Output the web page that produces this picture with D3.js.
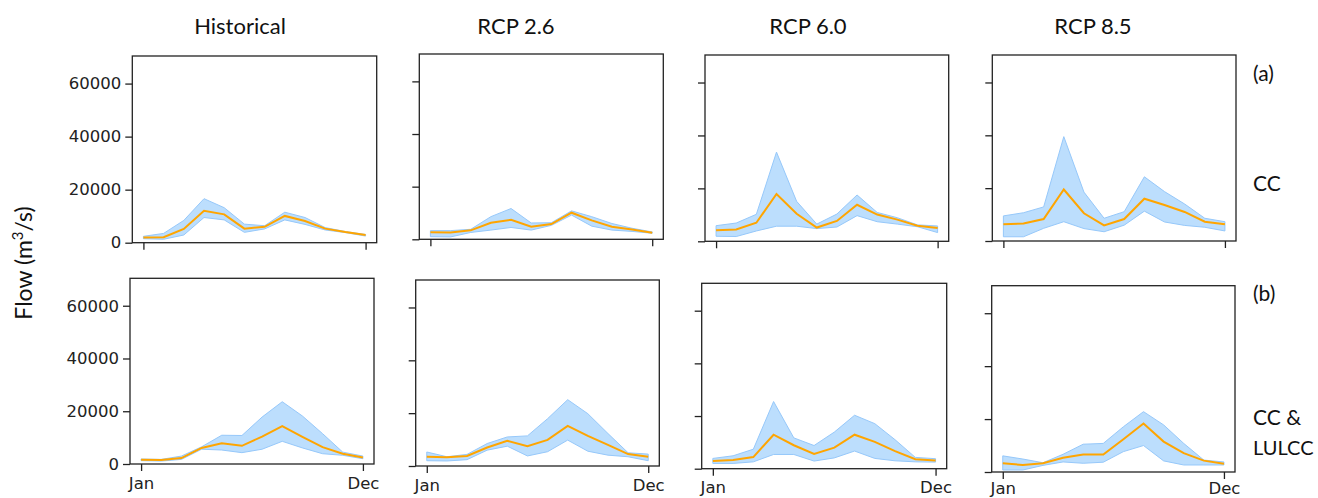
<!DOCTYPE html>
<html>
<head>
<meta charset="utf-8">
<script src="https://cdn.jsdelivr.net/npm/d3@7/dist/d3.min.js"></script>
<style>
  html, body { margin: 0; padding: 0; background: #fff; }
  svg { display: block; }
</style>
</head>
<body>
<svg id="chart" width="1318" height="498"></svg>
<script>
// ---------- DATA ----------
const months = ["Jan","Feb","Mar","Apr","May","Jun","Jul","Aug","Sep","Oct","Nov","Dec"];
const xTickLabels = ["Jan", "Dec"];
const yTicks = [0, 20000, 40000, 60000];
const columnTitles = ["Historical", "RCP 2.6", "RCP 6.0", "RCP 8.5"];
const rowTags = ["(a)", "(b)"];
const rowNames = [["CC"], ["CC &", "LULCC"]];

// Row (a): CC
const histCC_mean = [2000, 2100, 5200, 12000, 10700, 5300, 6000, 10100, 8200, 5300, 4000, 2900];
const histCC_high = [2400, 3500, 8400, 16600, 13200, 7000, 6400, 11500, 9500, 5700, 4200, 3100];
const histCC_low  = [1500, 1300, 2900, 9500, 8600, 3900, 5200, 8600, 6900, 4800, 3800, 2500];

const rcp26CC_mean = [2700, 2600, 3400, 6300, 7400, 4800, 5800, 10100, 7200, 4800, 3700, 2500];
const rcp26CC_high = [3300, 3300, 3800, 8600, 11700, 6200, 6300, 10800, 8600, 6000, 4200, 2800];
const rcp26CC_low  = [1000, 900, 2600, 3500, 4500, 3500, 5300, 9200, 5000, 3500, 3000, 2300];

const rcp60CC_mean = [4150, 4500, 7000, 17900, 10400, 5200, 7700, 13800, 10100, 8200, 5900, 5000];
const rcp60CC_high = [5900, 6900, 10200, 33700, 15100, 6500, 10300, 17500, 10900, 8900, 6200, 5800];
const rcp60CC_low  = [1900, 1800, 3900, 5700, 5700, 4800, 5400, 9700, 7400, 6500, 5500, 3300];

const rcp85CC_mean = [6300, 6600, 8300, 19500, 10500, 5900, 8300, 16000, 13600, 11000, 7300, 6300];
const rcp85CC_high = [9500, 10700, 12900, 39500, 18500, 8600, 11100, 24300, 18700, 14000, 8600, 7300];
const rcp85CC_low  = [1600, 1600, 4800, 7300, 4700, 3500, 6000, 11300, 7200, 5900, 5200, 3800];

// Row (b): CC & LULCC
const histLU_mean = [1600, 1500, 2250, 6100, 7900, 6900, 10400, 14400, 10300, 6400, 3900, 2500];
const histLU_high = [1900, 1750, 3000, 6500, 10900, 10800, 17800, 23600, 18200, 11500, 4500, 3000];
const histLU_low  = [1250, 1100, 1750, 5600, 5300, 4300, 5600, 8600, 6100, 3900, 3300, 2000];

const rcp26LU_mean = [3500, 3300, 3800, 7000, 9500, 7500, 9900, 15200, 11400, 8000, 4500, 3500];
const rcp26LU_high = [5300, 3500, 4400, 8500, 11000, 11400, 17900, 25100, 19800, 12300, 5000, 4500];
const rcp26LU_low  = [2000, 1900, 2400, 6000, 7500, 3800, 5400, 9800, 5600, 4100, 3500, 2000];

const rcp60LU_mean = [2900, 3300, 4400, 12900, 8900, 5600, 8000, 12900, 10200, 6700, 3600, 3100];
const rcp60LU_high = [3900, 4900, 7400, 25500, 11700, 8800, 13900, 20300, 17100, 11000, 4300, 3800];
const rcp60LU_low  = [2000, 2000, 2600, 5400, 5400, 2900, 4100, 6700, 3900, 3000, 2600, 2500];

const rcp85LU_mean = [3300, 2650, 3300, 5400, 6600, 6600, 12400, 18300, 11500, 7100, 4300, 3150];
const rcp85LU_high = [6100, 4900, 3500, 6700, 10500, 10800, 17100, 22800, 17800, 10800, 4500, 3800];
const rcp85LU_low  = [750, 750, 2500, 3800, 3300, 3700, 7700, 10000, 4200, 2650, 2650, 2650];

const series = [
  [histCC_mean, histCC_low, histCC_high],
  [rcp26CC_mean, rcp26CC_low, rcp26CC_high],
  [rcp60CC_mean, rcp60CC_low, rcp60CC_high],
  [rcp85CC_mean, rcp85CC_low, rcp85CC_high],
  [histLU_mean, histLU_low, histLU_high],
  [rcp26LU_mean, rcp26LU_low, rcp26LU_high],
  [rcp60LU_mean, rcp60LU_low, rcp60LU_high],
  [rcp85LU_mean, rcp85LU_low, rcp85LU_high]
];

// ---------- LAYOUT (panel frames, px) ----------
const frames = [
  {L:132.3, T:56,    R:376.7, B:242.7},
  {L:419.3, T:54,    R:663.3, B:239.3},
  {L:705,   T:55,    R:948.7, B:241.3},
  {L:992.3, T:55,    R:1236,  B:241},
  {L:130,   T:278.3, R:374,   B:464},
  {L:415.7, T:280,   R:659.3, B:466},
  {L:701.7, T:283.3, R:946.7, B:468.7},
  {L:991.7, T:285.7, R:1235,  B:472}
];
const titleX = [240, 516, 808, 1093];

const svg = d3.select("#chart");
const tickFont = "'DejaVu Sans', sans-serif";
const textFont = "Lato, 'Open Sans', sans-serif";
const yMax = 70400;

frames.forEach((f, i) => {
  const row = Math.floor(i / 4), col = i % 4;
  const [mean, low, high] = series[i];
  const x = d3.scaleLinear().domain([-0.55, 11.55]).range([f.L, f.R]);
  const y = d3.scaleLinear().domain([0, yMax]).range([f.B, f.T]);
  const g = svg.append("g");

  const area = d3.area()
    .x((d, k) => x(k))
    .y0((d, k) => y(low[k]))
    .y1((d, k) => y(high[k]));
  g.append("path")
    .datum(months)
    .attr("d", area)
    .attr("fill", "rgb(188,222,253)")
    .attr("stroke", "rgb(150,200,250)")
    .attr("stroke-width", 1);

  const line = d3.line().x((d, k) => x(k)).y(d => y(d));
  g.append("path")
    .datum(mean)
    .attr("d", line)
    .attr("fill", "none")
    .attr("stroke", "#FFA500")
    .attr("stroke-width", 2);

  // frame
  g.append("rect")
    .attr("x", f.L).attr("y", f.T)
    .attr("width", f.R - f.L).attr("height", f.B - f.T)
    .attr("fill", "none").attr("stroke", "#222").attr("stroke-width", 1.3);

  // y axis
  const yAxis = d3.axisLeft(y).tickValues(yTicks).tickSize(7).tickPadding(4)
    .tickFormat(col === 0 ? d3.format("d") : () => "");
  const ya = g.append("g").attr("transform", `translate(${f.L},0)`).call(yAxis);
  ya.select(".domain").remove();
  ya.selectAll(".tick line").attr("stroke", "#222").attr("stroke-width", 1.3);
  ya.selectAll(".tick text").attr("font-family", tickFont).attr("font-size", 16.5).attr("fill", "#222");

  // x axis
  const xAxis = d3.axisBottom(x).tickValues([0, 11]).tickSize(7).tickPadding(i === 7 ? 3 : 6)
    .tickFormat((d, k) => row === 1 ? xTickLabels[k] : "");
  const xa = g.append("g").attr("transform", `translate(0,${f.B})`).call(xAxis);
  xa.select(".domain").remove();
  xa.selectAll(".tick line").attr("stroke", "#222").attr("stroke-width", 1.3);
  xa.selectAll(".tick text").attr("font-family", tickFont).attr("font-size", 16.5).attr("fill", "#222");

  if (row === 0) {
    svg.append("text")
      .attr("x", titleX[col])
      .attr("y", 34)
      .attr("text-anchor", "middle")
      .attr("font-family", textFont).attr("font-size", 22)
      .attr("fill", "#111")
      .text(columnTitles[col]);
  }
});

// row tags and names
const sideFont = 21;
const sideX = 1253;
svg.append("text").attr("x", sideX).attr("y", 81).attr("font-family", textFont)
  .attr("font-size", sideFont).attr("fill", "#111").text(rowTags[0]);
svg.append("text").attr("x", sideX).attr("y", 191).attr("font-family", textFont)
  .attr("font-size", sideFont).attr("fill", "#111").text(rowNames[0][0]);
svg.append("text").attr("x", sideX).attr("y", 301).attr("font-family", textFont)
  .attr("font-size", sideFont).attr("fill", "#111").text(rowTags[1]);
svg.append("text").attr("x", sideX).attr("y", 425).attr("font-family", textFont)
  .attr("font-size", sideFont).attr("fill", "#111").text(rowNames[1][0]);
svg.append("text").attr("x", sideX).attr("y", 455).attr("font-family", textFont)
  .attr("font-size", 20).attr("fill", "#111").text(rowNames[1][1]);

// y label
const yl = svg.append("text")
  .attr("transform", "translate(32,263) rotate(-90)")
  .attr("text-anchor", "middle")
  .attr("font-family", textFont).attr("font-size", 23).attr("fill", "#111");
yl.append("tspan").text("Flow (m");
yl.append("tspan").attr("baseline-shift", "super").attr("font-size", 15).text("3");
yl.append("tspan").text("/s)");
</script>
</body>
</html>
